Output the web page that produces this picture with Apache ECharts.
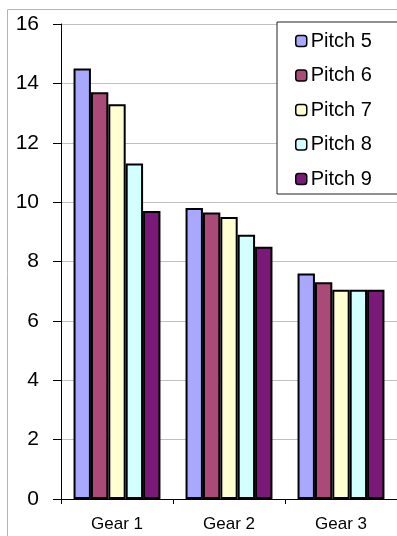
<!DOCTYPE html>
<html>
<head>
<meta charset="utf-8">
<script src="https://cdn.jsdelivr.net/npm/echarts@6/dist/echarts.min.js"></script>
<style>
    html, body { margin: 0; padding: 0; background: #fff; }
    #chart { width: 397px; height: 536px; }
</style>
</head>
<body>
<div id="chart"></div>
<script>
// data
const gears = ['Gear 1', 'Gear 2', 'Gear 3'];
const pitchNames = ['Pitch 5', 'Pitch 6', 'Pitch 7', 'Pitch 8', 'Pitch 9'];
const pitch5 = [14.5, 9.8, 7.6];
const pitch6 = [13.7, 9.65, 7.3];
const pitch7 = [13.3, 9.5, 7.05];
const pitch8 = [11.3, 8.9, 7.05];
const pitch9 = [9.7, 8.5, 7.05];
const yTicks = [0, 2, 4, 6, 8, 10, 12, 14, 16];

const colors = ['#A8A8FF', '#AA4A78', '#FFFFD2', '#D2FFFF', '#7A1A78'];
const allValues = [pitch5, pitch6, pitch7, pitch8, pitch9];

let chart = echarts.init(document.getElementById('chart'));
chart.setOption({
    animation: false,
    textStyle: { fontFamily: 'Liberation Sans, Arial, sans-serif' },
    color: colors,
    graphic: [
        {
            // outer chart border, only left/top show in the window
            type: 'rect',
            shape: { x: 7.5, y: 9.5, width: 420, height: 560 },
            style: { fill: 'none', stroke: '#b4b4b4', lineWidth: 1 },
            z: 0
        }
    ],
    grid: {
        left: 61,
        top: 24,
        width: 340,
        height: 475,
        containLabel: false
    },
    legend: {
        orient: 'vertical',
        left: 277,
        top: 22,
        data: pitchNames,
        itemWidth: 11,
        itemHeight: 11,
        itemGap: 14.5,
        padding: [9, 30, 5, 18],
        backgroundColor: '#fff',
        borderColor: '#222',
        borderWidth: 1,
        borderRadius: 0,
        itemStyle: { borderColor: '#000', borderWidth: 1.5 },
        textStyle: { fontSize: 20, color: '#000', padding: [0, 0, 0, -1] }
    },
    xAxis: {
        type: 'category',
        data: gears,
        axisLine: { lineStyle: { color: '#000', width: 1 } },
        axisTick: { show: true, length: 5, lineStyle: { color: '#000' } },
        axisLabel: { color: '#000', fontSize: 17, margin: 17 }
    },
    yAxis: {
        type: 'value',
        min: yTicks[0],
        max: yTicks[yTicks.length - 1],
        interval: 2,
        axisLine: { show: true, lineStyle: { color: '#000', width: 1 } },
        axisTick: { show: true, length: 8, lineStyle: { color: '#000' } },
        axisLabel: { color: '#000', fontSize: 21, margin: 22 },
        splitLine: { show: true, lineStyle: { color: '#c0c0c0', width: 1 } }
    },
    series: pitchNames.map((name, i) => ({
        name: name,
        type: 'bar',
        data: allValues[i],
        barGap: '0%',
        barCategoryGap: '22.4%',
        itemStyle: { color: colors[i], borderColor: '#000', borderWidth: 2 }
    }))
});
</script>
</body>
</html>
